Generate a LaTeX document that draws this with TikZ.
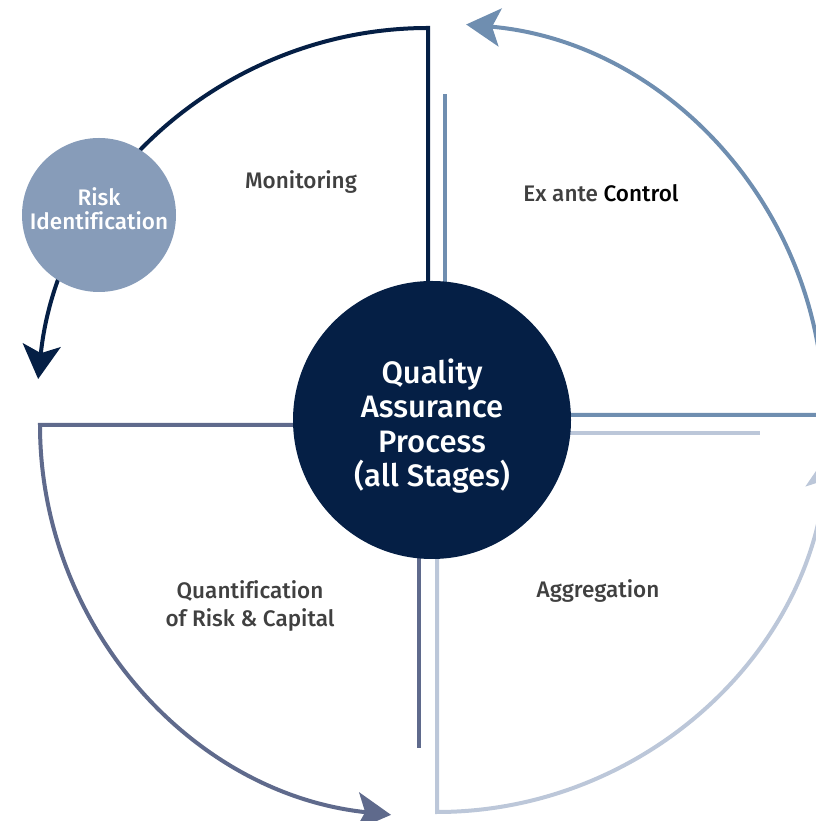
\documentclass[tikz,border=0pt]{standalone}
\usepackage{fontspec}
\setmainfont{Fira Sans}
\newfontfamily\medfont{Fira Sans Medium}[Ligatures=NoCommon]
\usetikzlibrary{arrows.meta, positioning, backgrounds}

\definecolor{navy}{HTML}{051F45}
\definecolor{riskblue}{HTML}{879CB9}
\definecolor{steel}{HTML}{6F8EB0}
\definecolor{pale}{HTML}{BCC7D9}
\definecolor{slate}{HTML}{5F6A8C}
\definecolor{labelgray}{HTML}{404040}

\tikzset{
	stage/.style = {line width=4pt},
	tipped/.style = {-{Stealth[length=34pt, width=38pt, inset=8pt]}},
	hub/.style = {circle, fill=navy, minimum size=278pt, inner sep=0pt},
	hubtext/.style = {text=white, align=center, font=\medfont\fontsize{31}{34.5}\selectfont},
	riskid/.style = {circle, fill=riskblue, minimum size=154pt, inner sep=0pt},
	risktext/.style = {text=white, align=center, font=\medfont\fontsize{22.5}{24}\selectfont},
	phase/.style = {text=labelgray, align=center, font=\medfont\fontsize{22.5}{28}\selectfont}
}

\begin{document}
\begin{tikzpicture}[x=1pt, y=1pt]
	\useasboundingbox (0,0) rectangle (815,821);

	\node[hub] (qap) at (432,401) {};
	\node[hubtext] (qap-text) at ([yshift=-6pt]qap.center) {Quality\\Assurance\\Process\\(all Stages)};

	\begin{scope}[on background layer]
		% monitoring
		\draw[stage, navy, tipped] ([xshift=-4pt]qap.center) -- ++(0,392)
			arc[start angle=90, end angle=174, radius=392];
		% ex ante control
		\draw[stage, steel, tipped] ([yshift=5pt]qap.center) -- ++(392,0)
			arc[start angle=0, end angle=85, radius=392];
		\draw[stage, steel] ([xshift=13pt]qap.center) -- ++(0,326);
		% aggregation
		\draw[stage, pale, tipped] ([xshift=5pt]qap.center) -- ++(0,-392)
			arc[start angle=270, end angle=355, radius=392];
		\draw[stage, pale] ([yshift=-13pt]qap.center) -- ++(328,0);
		% quantification
		\draw[stage, slate, tipped] ([yshift=-5pt]qap.center) -- ++(-392,0)
			arc[start angle=180, end angle=264, radius=392];
		\draw[stage, slate] ([xshift=-13pt]qap.center) -- ++(0,-328);
	\end{scope}

	\node[riskid] (risk) at (99,606) {};
	\node[risktext] (risk-text) at ([yshift=6pt]risk.center) {Risk\\Identification};

	\node[phase] (monitoring) at (301,639) {Monitoring};
	\node[phase] (exante) at (601,628) {Ex ante \textcolor{black}{Control}};
	\node[phase] (aggregation) at (598,230) {Aggregation};
	\node[phase] (quantification) at (250,215) {Quantification\\of Risk \& Capital};
\end{tikzpicture}
\end{document}
